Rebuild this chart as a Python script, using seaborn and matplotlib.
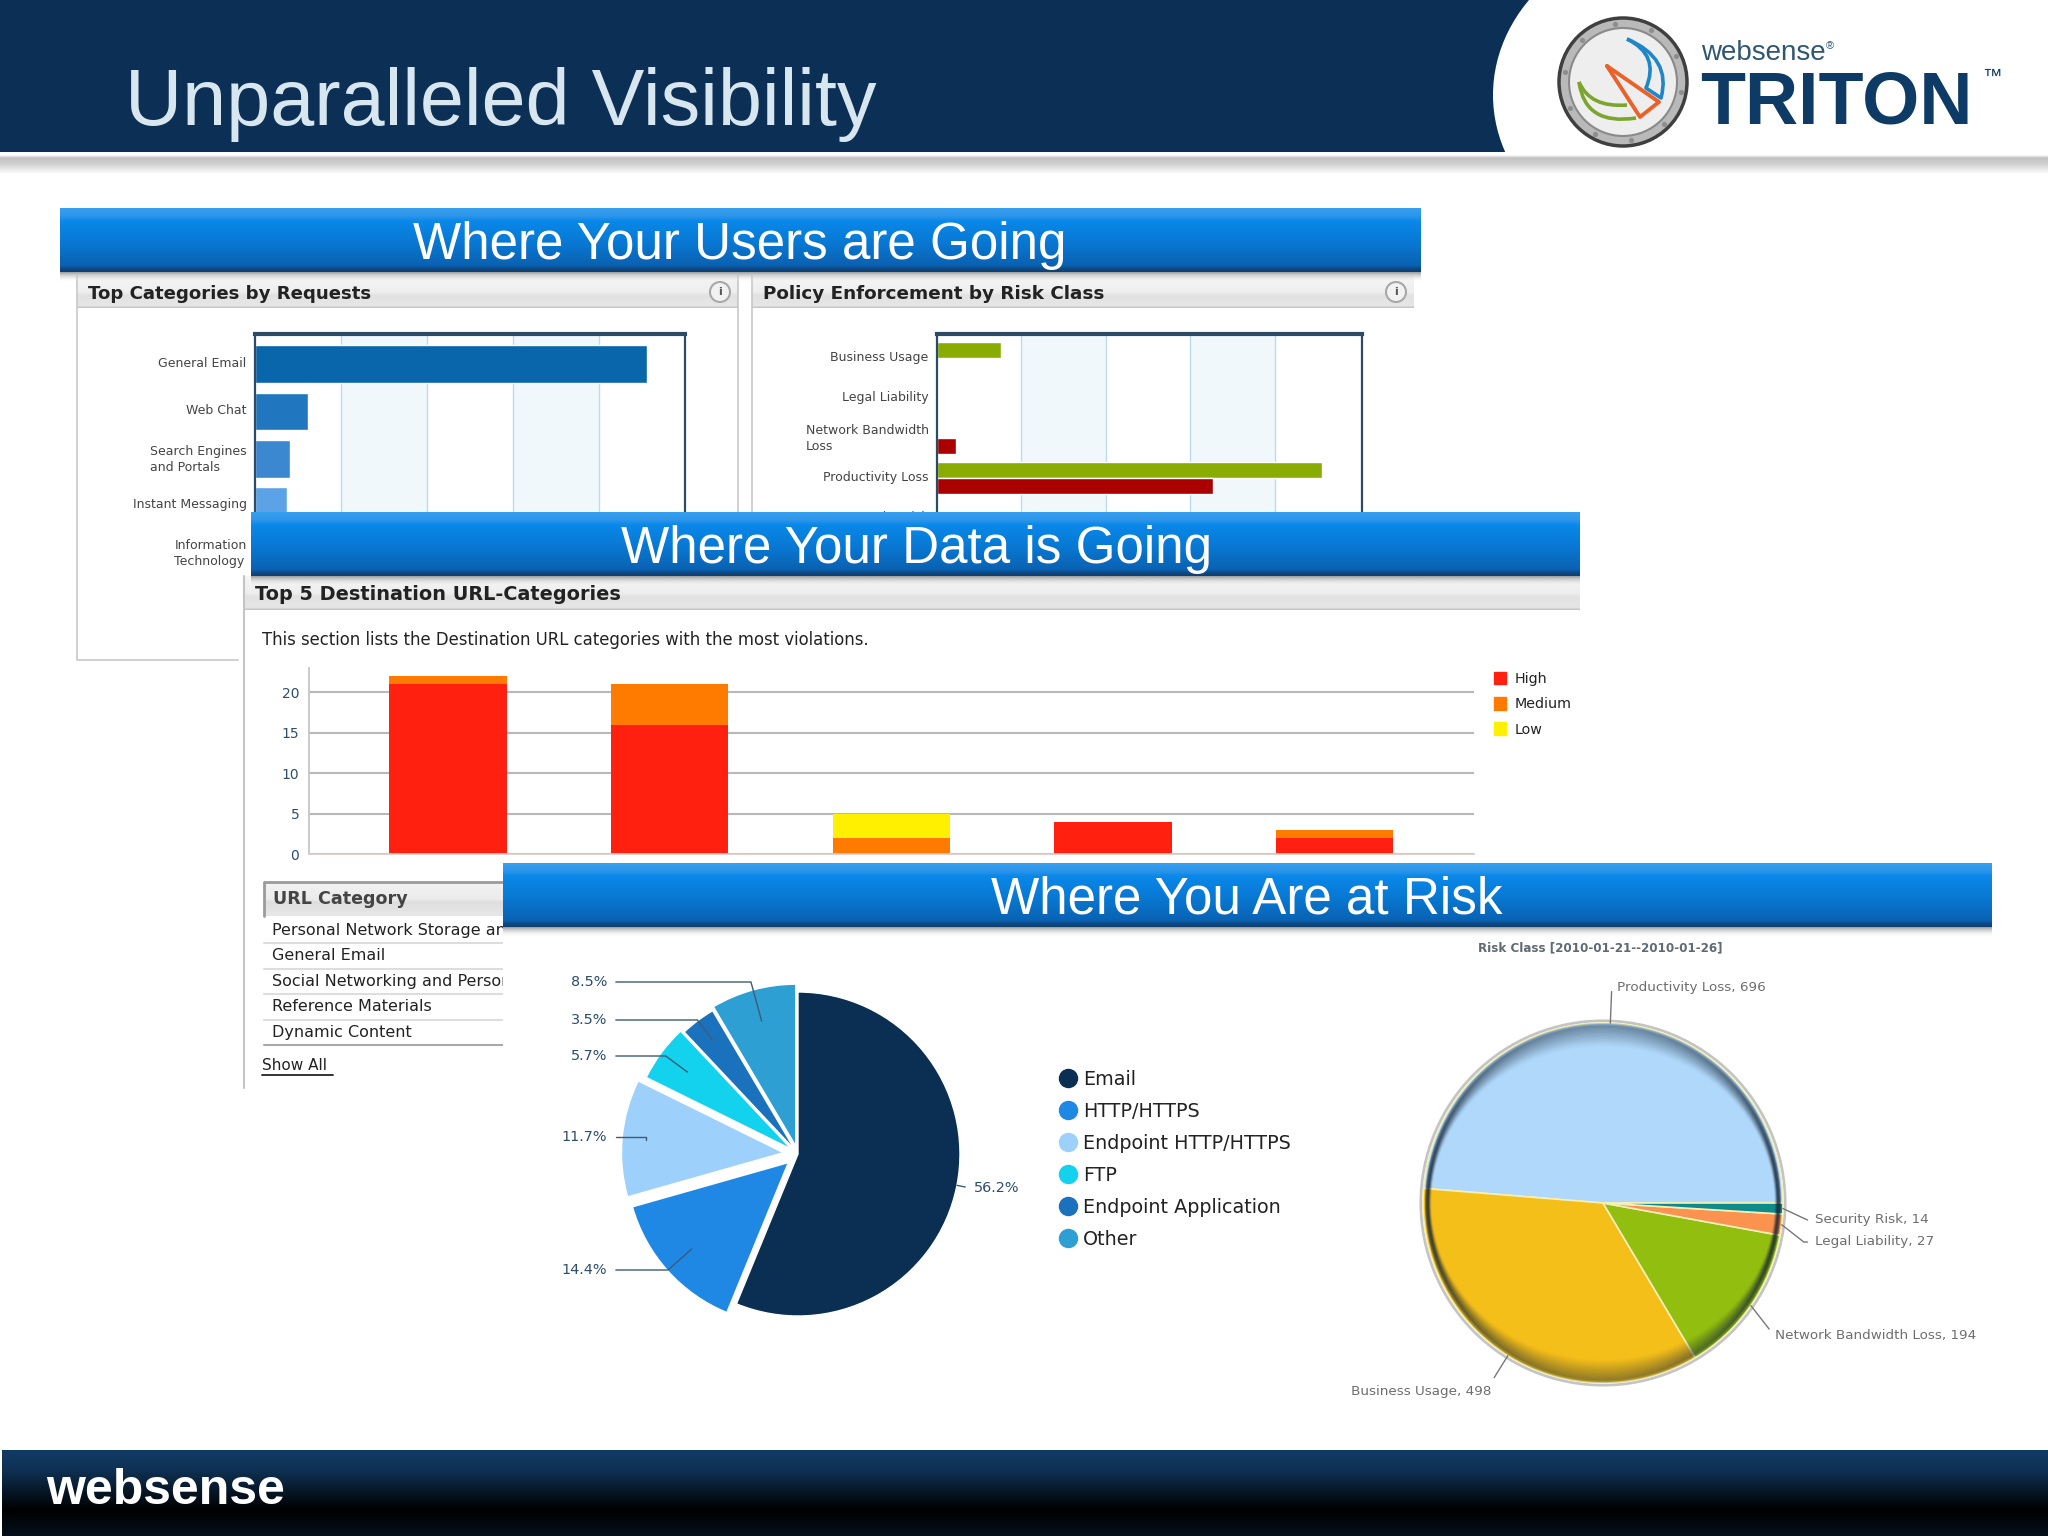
import numpy as np
import pandas as pd
import seaborn as sns
import matplotlib.pyplot as plt
from matplotlib.colors import LinearSegmentedColormap
from matplotlib.lines import Line2D
from matplotlib.patches import Circle, Ellipse, Patch, PathPatch, Rectangle
from matplotlib.path import Path
from matplotlib.transforms import ScaledTranslation

W, H = 2048, 1536

# top left chart
req_categories = ['General Email', 'Web Chat', 'Search Engines\nand Portals', 'Instant Messaging', 'Information\nTechnology']
req_values = [4560, 620, 410, 370, 300]
req_colors = ['#0a66aa', '#2077bf', '#3b88d0', '#5ba3e6', '#7fb8ee']

# top right chart
risk_classes = ['Business Usage', 'Legal Liability', 'Network Bandwidth\nLoss', 'Productivity Loss', 'Security Risk']
risk_permitted = [76, 0, 0, 456, 0]
risk_blocked = [0, 0, 22, 327, 0]

# stacked chart
url_categories = ['Personal Network Storage and Backup', 'General Email', 'Social Networking and Personal Sites',
                  'Reference Materials', 'Dynamic Content']
sev_high = [21, 16, 0, 4, 2]
sev_medium = [1, 5, 2, 0, 1]
sev_low = [0, 0, 3, 0, 0]
sev_colors = {'High': '#ff2010', 'Medium': '#ff7b00', 'Low': '#fff000'}

# channel pie
channels = ['Email', 'HTTP/HTTPS', 'Endpoint HTTP/HTTPS', 'FTP', 'Endpoint Application', 'Other']
channel_share = [56.2, 14.4, 11.7, 5.7, 3.5, 8.5]
channel_colors = ['#0b2f52', '#1f88e5', '#9dd0fb', '#12d2ee', '#1a72bd', '#2e9fd2']
channel_explode = [0, 0.08, 0.09, 0.05, 0.03, 0.05]

# risk class pie
pie_classes = ['Productivity Loss', 'Business Usage', 'Network Bandwidth Loss', 'Legal Liability', 'Security Risk']
pie_counts = [696, 498, 194, 27, 14]
pie_colors = ['#b0d8fa', '#f5bf1a', '#92be10', '#fb9350', '#0d8a8a']

sns.set_theme(style='white')
plt.rcParams['font.family'] = ['DejaVu Sans']
ARIAL = 'Liberation Sans'

fig = plt.figure(figsize=(W / 100, H / 100), dpi=100, facecolor='white')


def layer(z):
    ax = fig.add_axes([0, 0, 1, 1], zorder=z)
    ax.set_xlim(0, W)
    ax.set_ylim(H, 0)
    ax.axis('off')
    ax.patch.set_alpha(0)
    ax.set_autoscale_on(False)
    return ax


def px_axes(x0, y0, x1, y1, z):
    ax = fig.add_axes([x0 / W, 1 - y1 / H, (x1 - x0) / W, (y1 - y0) / H], zorder=z)
    ax.patch.set_alpha(0)
    return ax


def vgrad(ax, x0, y0, x1, y1, stops):
    cmap = LinearSegmentedColormap.from_list('g', stops)
    ax.imshow(np.linspace(0, 1, 256).reshape(-1, 1), cmap=cmap, extent=(x0, x1, y1, y0),
              aspect='auto', interpolation='bilinear')


def curve(ax, p0, c, p1, color):
    path = Path([p0, c, p1], [Path.MOVETO, Path.CURVE3, Path.CURVE3])
    ax.add_patch(PathPatch(path, fc='none', ec=color, lw=2.6))


def banner(ax, x0, y0, x1, y1, text, cx):
    vgrad(ax, x0, y1, x1, y1 + 10, [(0, '#9a9a9a'), (1, '#ffffff00')])
    vgrad(ax, x0, y0, x1, y1, [(0, '#35a0f0'), (0.12, '#2f96ea'), (0.2, '#0a88ea'), (0.55, '#0878d2'),
                               (0.9, '#0a62b2'), (0.95, '#0d4a85'), (1, '#123f6b')])
    ax.text(cx, (y0 + y1) / 2 + 5, text, color='white', fontsize=36.8, family=ARIAL, ha='center', va='center')


def panel_head(ax, x0, y0, x1, y1, text, tx, size, icon=True):
    vgrad(ax, x0, y0, x1, y1, [(0, '#f6f6f6'), (0.5, '#eeeeee'), (0.6, '#e2e2e2'), (0.93, '#e6e6e6'), (1, '#bdbdbd')])
    ax.text(tx, (y0 + y1) / 2 + 2, text, color='#222222', fontsize=size, fontweight='bold', ha='left', va='center')
    if icon:
        ix = x1 - 18
        ax.add_patch(Circle((ix, (y0 + y1) / 2), 10, fc='#f2f2f2', ec='#a8a8a8', lw=1.5))
        ax.text(ix, (y0 + y1) / 2, 'i', color='#555555', fontsize=8, fontweight='bold', ha='center', va='center')


def band_axis(ax, ticks, bands):
    for a, b in bands:
        ax.axvspan(a, b, color='#f1f8fb', lw=0, zorder=0)
    ax.set_xticks(ticks)
    ax.set_xticklabels([])
    ax.grid(axis='x', color='#bcdcec', lw=1)
    ax.grid(axis='y', visible=False)
    ax.set_axisbelow(True)
    ax.set(xlabel='', ylabel='')
    ax.tick_params(axis='both', length=0, labelsize=9, labelcolor='#444444', pad=6)
    nudge = ScaledTranslation(0, 2.5 / 100, fig.dpi_scale_trans)
    for lab in ax.get_yticklabels():
        lab.set_multialignment('left')
        lab.set_linespacing(1.3)
        lab.set_transform(lab.get_transform() + nudge)
    for side in ['left', 'right', 'top', 'bottom']:
        ax.spines[side].set_visible(True)
        ax.spines[side].set_color('#2d4a66')
        ax.spines[side].set_linewidth(1.6)
    ax.spines['top'].set_linewidth(3)


# ---- back layer: header, footer, first panels
back = layer(0)
back.add_patch(Rectangle((0, 0), 1700, 152, fc='#0b2f55', lw=0, zorder=-3))
back.add_patch(Ellipse((1693, 95), 400, 332, fc='white', lw=0, zorder=-2))
back.add_patch(Rectangle((1600, 0), W - 1600, 212, fc='white', lw=0, zorder=-2))
back.add_patch(Rectangle((0, 152), W, 60, fc='white', lw=0, zorder=-2))
vgrad(back, 0, 155, W, 174, [(0, '#ffffff'), (0.15, '#c2c2c2'), (0.45, '#cfcfcf'), (1, '#ffffff')])
back.text(125, 105, 'Unparalleled Visibility', color='#d8e6f0', fontsize=57, family=ARIAL, ha='left', va='center')

# porthole logo
back.add_patch(Circle((1623, 82), 64, fc='#b9b9b9', ec='#3f3f3f', lw=2.5))
back.add_patch(Circle((1623, 82), 54, fc='#eeeeee', ec='#8a8a8a', lw=1.5))
bolt_ang = np.radians(np.arange(0, 360, 36) + 10)
back.scatter(1623 + 59 * np.cos(bolt_ang), 82 + 59 * np.sin(bolt_ang), s=14, color='#8e8e8e', lw=0)
curve(back, (1627, 39), (1672, 58), (1661, 98), '#1f86c8')
curve(back, (1627, 39), (1660, 55), (1646, 88), '#1f86c8')
back.plot([1646, 1661], [88, 98], color='#1f86c8', lw=2.6)
back.plot([1607, 1659, 1640, 1607], [66, 102, 117, 66], color='#e8622a', lw=2.8)
curve(back, (1579, 82), (1590, 108), (1627, 105), '#7ca52c')
curve(back, (1579, 82), (1585, 126), (1636, 118), '#7ca52c')
back.text(1701, 53, 'websense', color='#2f5870', fontsize=20, family=ARIAL, ha='left', va='center')
back.text(1826, 46, '®', color='#2f5870', fontsize=8, family=ARIAL, ha='left', va='center')
back.text(1700, 124, 'TRITON', color='#0d3b66', fontsize=53, fontweight='bold', family=ARIAL, ha='left', va='baseline')
back.text(1982, 77, '™', color='#0d3b66', fontsize=14, family=ARIAL, ha='left', va='center')

# footer
vgrad(back, 2, 1450, W, 1536, [(0, '#123c66'), (0.25, '#0e2f50'), (0.7, '#000000'), (1, '#04101c')])
back.text(46, 1491, 'websense', color='white', fontsize=36, fontweight='bold', family=ARIAL, ha='left', va='center')

# first two panels
back.plot([77, 77, 238], [276, 660, 660], color='#c8c8c8', lw=1.2)
back.plot([738, 738], [276, 520], color='#c8c8c8', lw=1.2)
back.plot([752, 752], [276, 520], color='#c8c8c8', lw=1.2)
panel_head(back, 77, 276, 738, 308, 'Top Categories by Requests', 88, 13.1)
panel_head(back, 752, 276, 1414, 308, 'Policy Enforcement by Risk Class', 763, 13.2)

# ---- top charts
ax_req = px_axes(255, 334, 685, 571, 1)
sns.barplot(x=req_values, y=req_categories, hue=req_categories, palette=req_colors, dodge=False,
            legend=False, width=0.8, saturation=1, ax=ax_req)
ax_req.set_xlim(0, 5000)
ax_req.set_ylim(4.38, -0.64)
band_axis(ax_req, [1000, 2000, 3000, 4000], [(1000, 2000), (3000, 4000)])

risk_df = pd.DataFrame({'risk': risk_classes * 2, 'count': risk_permitted + risk_blocked,
                        'action': ['Permitted'] * 5 + ['Blocked'] * 5})
ax_risk = px_axes(937, 334, 1362, 571, 1)
sns.barplot(data=risk_df, x='count', y='risk', hue='action', palette=['#8aac00', '#aa0000'],
            legend=False, width=0.8, saturation=1, ax=ax_risk)
ax_risk.set_xlim(0, 503)
ax_risk.set_ylim(5.325, -0.6)
band_axis(ax_risk, [100, 200, 300, 400], [(100, 200), (300, 400)])

# ---- second section
mid = layer(2)
mid.add_patch(Rectangle((244, 576), W - 244, 520, fc='white', lw=0, zorder=-1))
mid.plot([244, 244], [576, 1088], color='#c4c4c4', lw=1.5)
panel_head(mid, 244, 576, 1580, 610, 'Top 5 Destination URL-Categories', 255, 13.9, icon=False)
banner(mid, 251, 512, 1580, 576, 'Where Your Data is Going', 917)
mid.text(262, 640, 'This section lists the Destination URL categories with the most violations.',
         color='#222222', fontsize=11.9, ha='left', va='center')

sev_df = pd.DataFrame({'category': url_categories * 3, 'count': sev_low + sev_medium + sev_high,
                       'severity': ['Low'] * 5 + ['Medium'] * 5 + ['High'] * 5})
ax_sev = px_axes(309, 668, 1474, 854, 3)
sns.histplot(data=sev_df, x='category', weights='count', hue='severity', hue_order=['Low', 'Medium', 'High'],
             multiple='stack', discrete=True, shrink=0.53, palette=sev_colors, alpha=1, linewidth=0,
             legend=False, ax=ax_sev)
ax_sev.set_xlim(-0.628, 4.63)
ax_sev.set_ylim(0, 23)
ax_sev.set_yticks([0, 5, 10, 15, 20])
ax_sev.set_xticks([])
ax_sev.set(xlabel='', ylabel='')
ax_sev.grid(axis='y', color='#b8b8b8', lw=1.5)
ax_sev.set_axisbelow(True)
ax_sev.tick_params(axis='y', length=4, color='#b0b0b0', labelsize=10, labelcolor='#2d4d6a', pad=3)
sns.despine(ax=ax_sev, top=True, right=True)
ax_sev.spines['left'].set_color('#c4c4c4')
ax_sev.spines['bottom'].set_color('#e0c8c8')
ax_sev.legend(handles=[Patch(color=sev_colors[k], label=k) for k in ['High', 'Medium', 'Low']],
              loc='upper left', bbox_to_anchor=(1494, 672), bbox_transform=mid.transData, frameon=False,
              fontsize=10.3, handlelength=0.85, handleheight=0.95, handletextpad=0.6, labelspacing=0.78,
              borderpad=0, borderaxespad=0, labelcolor='#222222')

# url table
vgrad(mid, 264, 882, 520, 916, [(0, '#f2f2f2'), (0.5, '#ececec'), (0.6, '#dedede'), (1, '#e8e8e8')])
mid.plot([264, 264, 520], [916, 882, 882], color='#9a9a9a', lw=2)
mid.text(273, 899, 'URL Category', color='#444444', fontsize=12.6, fontweight='bold', ha='left', va='center')
for i, name in enumerate(url_categories):
    row_y = 930 + 25.6 * i
    mid.text(272, row_y, name, color='#222222', fontsize=11.5, ha='left', va='center')
    mid.plot([264, 520], [row_y + 13, row_y + 13], color='#dddddd' if i < 4 else '#a8a8a8', lw=1.5)
mid.text(262, 1066, 'Show All', color='#222222', fontsize=11, ha='left', va='center')
mid.plot([262, 333], [1075, 1075], color='#222222', lw=1.3)

# ---- third section
front = layer(4)
front.add_patch(Rectangle((503, 927), W - 503, 523, fc='white', lw=0, zorder=-1))
banner(front, 503, 863, 1992, 927, 'Where You Are at Risk', 1247)
front.text(1600, 948, 'Risk Class [2010-01-21--2010-01-26]', color='#5f6a72', fontsize=8.6, fontweight='bold',
           ha='center', va='center')

R1 = 162
ax_ch = px_axes(798 - 1.25 * R1, 1154 - 1.25 * R1, 798 + 1.25 * R1, 1154 + 1.25 * R1, 5)
wedges, _ = ax_ch.pie(channel_share, colors=sns.color_palette(channel_colors), startangle=90, counterclock=False,
                      explode=channel_explode, radius=1, wedgeprops={'edgecolor': 'white', 'linewidth': 1})
ax_ch.set_xlim(-1.25, 1.25)
ax_ch.set_ylim(-1.25, 1.25)

# where the percentage labels sit on the page and how their leaders bend
ch_label_pos = [(974, 1188), (607, 1270), (607, 1137), (607, 1056), (607, 1020), (607, 982)]
ch_label_ha = ['left', 'right', 'right', 'right', 'right', 'right']
ch_leader_r = [1.0, 0.8, 0.85, 0.8, 0.85, 0.8]
ch_leader_b = [None, None, 90, None, None, None]
for w, share, pos, ha, rr, ang in zip(wedges, channel_share, ch_label_pos, ch_label_ha, ch_leader_r, ch_leader_b):
    mid_ang = (w.theta1 + w.theta2) / 2
    cx, cy = w.center
    xy = (cx + rr * np.cos(np.radians(mid_ang)), cy + rr * np.sin(np.radians(mid_ang)))
    ax_ch.annotate(f'{share}%', xy=xy, xytext=pos, textcoords=front.transData, ha=ha, va='center',
                   color='#2d4d6a', fontsize=10.4, annotation_clip=False,
                   arrowprops=dict(arrowstyle='-', color='#3d5a78', lw=1, shrinkA=4, shrinkB=0,
                                   relpos=(0, 0.5) if ha == 'left' else (1, 0.5),
                                   connectionstyle=f'angle,angleA=0,angleB={mid_ang if ang is None else ang},rad=0'))

ax_ch.legend(handles=[Line2D([], [], ls='', marker='o', ms=13, color=c, label=n)
                      for c, n in zip(channel_colors, channels)],
             loc='upper left', bbox_to_anchor=(1061, 1070), bbox_transform=front.transData, frameon=False,
             fontsize=13.8, handlelength=0.7, handletextpad=0.45, labelspacing=0.68, borderpad=0,
             borderaxespad=0, labelcolor='#222222')

R2 = 180
ax_pie = px_axes(1603 - 1.25 * R2, 1203 - 1.25 * R2, 1603 + 1.25 * R2, 1203 + 1.25 * R2, 5)
ax_pie.add_patch(Circle((0, 0), 1.012, fc='none', ec='#c4c4c4', lw=2))
wedges2, _ = ax_pie.pie(pie_counts, colors=pie_colors, startangle=0, radius=1,
                        wedgeprops={'edgecolor': '#f4f0b8', 'linewidth': 1.2})
ax_pie.set_xlim(-1.25, 1.25)
ax_pie.set_ylim(-1.25, 1.25)
for t in np.linspace(0, 1, 18):
    ax_pie.add_patch(Ellipse((0, 0), 2 * (1 - 0.02 - 0.02 * t), 2 * (1 - 0.01 - 0.12 * t), fill=False,
                             ec='#1a2a3a', lw=2.6, alpha=0.2 * (1 - t) ** 1.2))

pie_label_pos = [(1617, 988), (1491, 1391), (1775, 1335), (1815, 1242), (1815, 1220)]
pie_label_ha = ['left', 'right', 'left', 'left', 'left']
pie_leader_b = [None, None, -52, -38, -25]
for w, name, val, pos, ha, ang in zip(wedges2, pie_classes, pie_counts, pie_label_pos, pie_label_ha, pie_leader_b):
    mid_ang = (w.theta1 + w.theta2) / 2
    xy = (np.cos(np.radians(mid_ang)), np.sin(np.radians(mid_ang)))
    ax_pie.annotate(f'{name}, {val}', xy=xy, xytext=pos, textcoords=front.transData, ha=ha, va='center',
                    color='#6e6e6e', fontsize=9.7, annotation_clip=False,
                    arrowprops=dict(arrowstyle='-', color='#777777', lw=1, shrinkA=3, shrinkB=0,
                                    relpos=(0, 0.5) if ha == 'left' else (1, 0.5),
                                    connectionstyle=f'angle,angleA=0,angleB={mid_ang if ang is None else ang},rad=0'))

# first banner goes over the back layer charts but under the second section
top = layer(1.5)
banner(top, 60, 208, 1421, 272, 'Where Your Users are Going', 740)

fig.savefig('out.png', dpi=100)
